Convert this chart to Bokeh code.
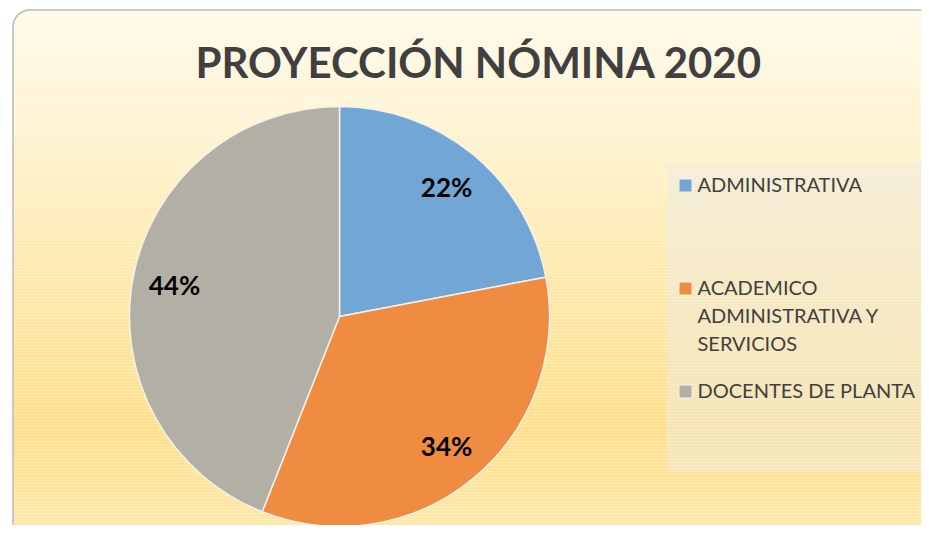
import math
import textwrap
from bokeh.plotting import figure
from bokeh.models import Range1d, ColumnDataSource
from bokeh.core.properties import value
from bokeh.embed import file_html
from bokeh.resources import INLINE

# ---- data ----
title = "PROYECCIÓN NÓMINA 2020"
categories = ["ADMINISTRATIVA", "ACADEMICO ADMINISTRATIVA Y SERVICIOS", "DOCENTES DE PLANTA"]
shares = [22, 34, 44]
colors = ["#72a6d4", "#ef8c41", "#b2afa5"]

W, H = 921, 525
p = figure(width=W, height=H, output_backend="svg", toolbar_location=None,
           x_range=Range1d(0, W), y_range=Range1d(0, H), min_border=0)
p.axis.visible = False
p.grid.visible = False
p.outline_line_color = None
p.background_fill_color = "white"
p.border_fill_color = "white"


def Y(py):  # pixel y from top -> data y
    return H - py


# ---- gradient background ----
stops = [(0, (255, 250, 235)), (150, (255, 242, 204)), (280, (255, 232, 168)),
         (430, (255, 223, 138)), (533, (255, 232, 170))]


def grad(py):
    for (y0, c0), (y1, c1) in zip(stops[:-1], stops[1:]):
        if y0 <= py <= y1:
            t = (py - y0) / (y1 - y0)
            return "#%02x%02x%02x" % tuple(int(round(a + (b - a) * t)) for a, b in zip(c0, c1))
    return "#%02x%02x%02x" % stops[-1][1]


tops, bots, gcols = [], [], []
py = 0
while py < H:
    tops.append(Y(py)); bots.append(Y(py + 3)); gcols.append(grad(py + 1.5))
    py += 3
p.quad(left=0, right=W, top=tops, bottom=bots, fill_color=gcols, line_color=None)

# ---- rounded frame (mask + border) ----
L, R, T, B, r = 12.5, 940, 9.5, 545, 17


def rrect():
    xs, ys = [], []
    corners = [(L + r, T + r, 180, 270), (R - r, T + r, 270, 360),
               (R - r, B - r, 0, 90), (L + r, B - r, 90, 180)]
    for cx_, cy_, a0, a1 in corners:
        for k in range(13):
            a = math.radians(a0 + (a1 - a0) * k / 12)
            xs.append(cx_ + r * math.cos(a)); ys.append(Y(cy_ + r * math.sin(a)))
    return xs, ys


fx, fy = rrect()
p.multi_polygons(xs=[[[[-10, 960, 960, -10], fx]]], ys=[[[[-40, -40, 540, 540], fy]]],
                 fill_color="white", line_color=None)
p.line(fx + [fx[0]], fy + [fy[0]], line_color="#bdbdbd", line_width=1.6)

# ---- title ----
p.text(x=[478.5], y=[Y(61)], text=[title], text_font=value("Lato"), text_font_style="bold",
       text_font_size="42px", text_color="#404040", text_align="center", text_baseline="middle")

# ---- pie ----
cx, cy, rad = 339, Y(316), 210
total = float(sum(shares))
cum = [0]
for s in shares:
    cum.append(cum[-1] + s / total)
starts = [math.pi / 2 - 2 * math.pi * c for c in cum[:-1]]
ends = [math.pi / 2 - 2 * math.pi * c for c in cum[1:]]
src = ColumnDataSource(dict(start=starts, end=ends, color=colors))
p.wedge(x=cx, y=cy, radius=rad, start_angle="start", end_angle="end", direction="clock",
        fill_color="color", line_color="#f4f1ea", line_width=1.5, source=src)

mids = [(a + b) / 2 for a, b in zip(starts, ends)]
lx = [cx + 0.8 * rad * math.cos(m) for m in mids]
ly = [cy + 0.8 * rad * math.sin(m) for m in mids]
labels = ["%d%%" % round(100 * s / total) for s in shares]
p.text(x=lx, y=ly, text=labels, text_font=value("Lato"), text_font_style="bold",
       text_font_size="26px", text_color="black", text_align="center", text_baseline="middle")

# ---- legend ----
p.quad(left=666, right=935, top=Y(162), bottom=Y(471), fill_color="#eceae6",
       fill_alpha=0.45, line_color=None)
ent_y = [185 + 103 * i for i in range(len(categories))]
p.scatter(x=[685] * len(categories), y=[Y(v) for v in ent_y], marker="square", size=13,
          fill_color=colors, line_color="#f4f1ea", line_width=1)
wrapped = ["\n".join(textwrap.wrap(c, 18)) for c in categories]
p.text(x=[697] * len(categories), y=[Y(v - 13.5) for v in ent_y], text=wrapped,
       text_font=value("Lato"), text_font_size="20px", text_color="#404040",
       text_align="left", text_baseline="top", text_line_height=1.16)

open("out.html", "w").write(file_html(p, INLINE))
